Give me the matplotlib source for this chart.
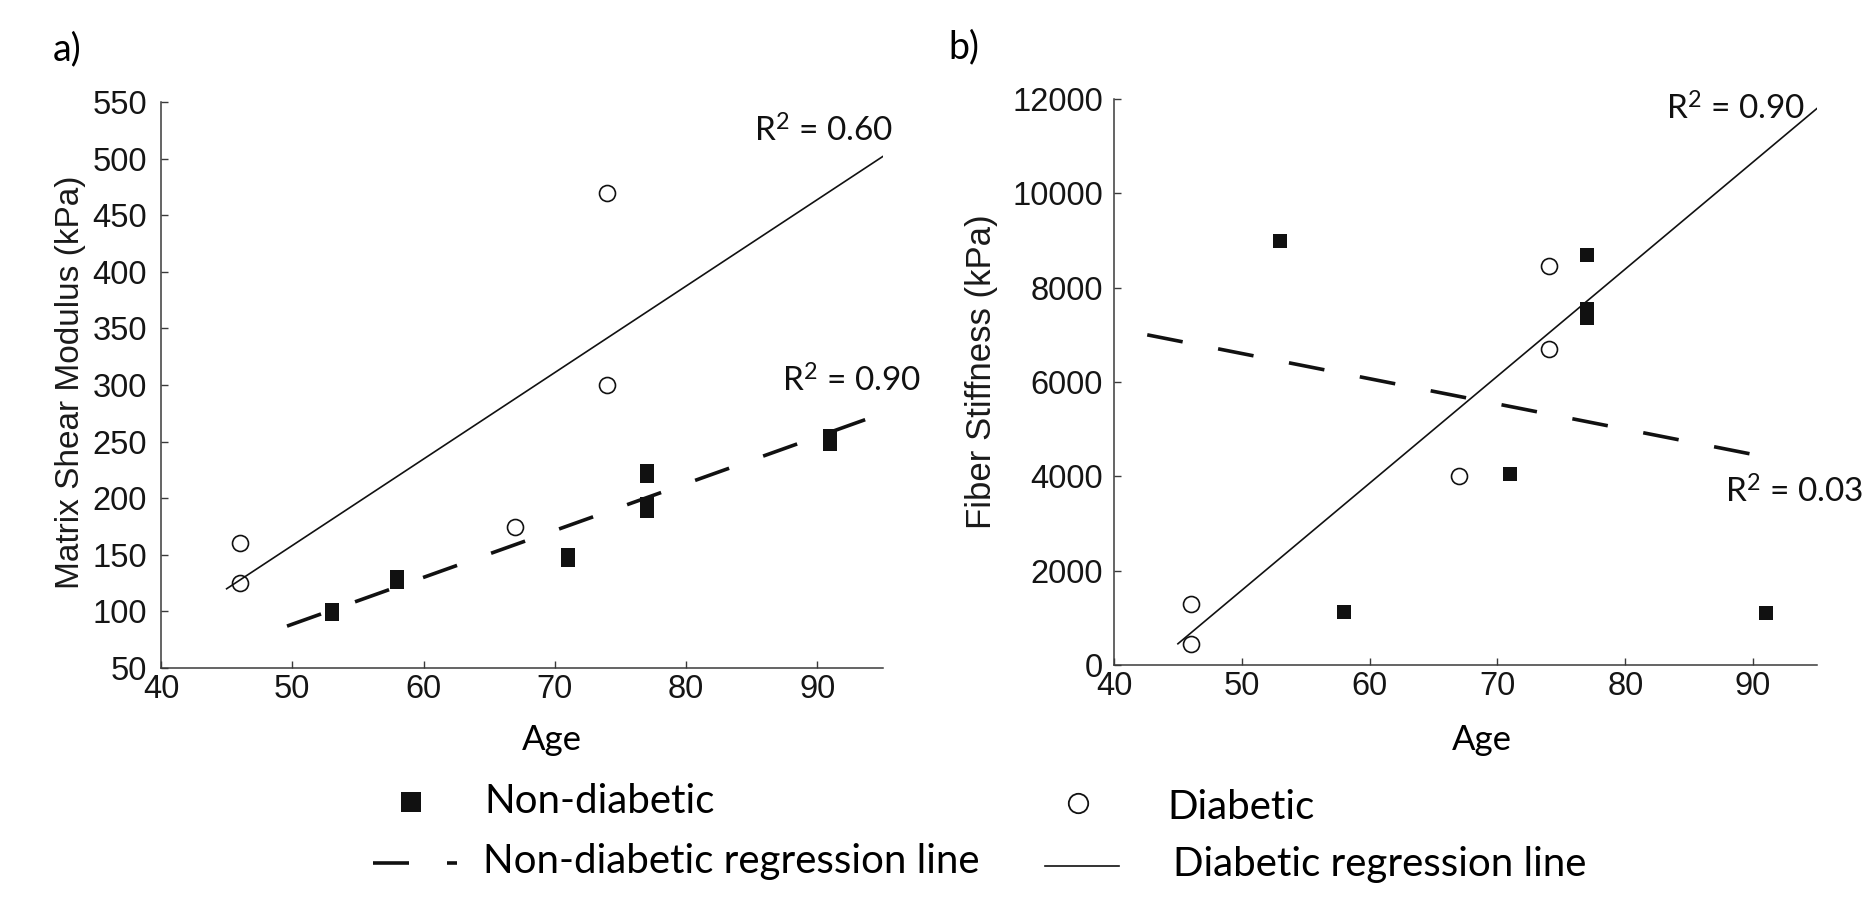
import matplotlib
matplotlib.use("Agg")
import matplotlib.pyplot as plt

plt.rcParams['mathtext.default'] = 'regular'

# ---------------- data ----------------
# panel a: matrix shear modulus (kPa) vs age
age_nondiab_a = [53, 53, 58, 58, 71, 71, 77, 77, 77, 77, 91, 91]
shear_nondiab = [101, 98, 130, 126, 150, 145, 224, 220, 195, 189, 255, 248]
age_diab_a = [46, 46, 67, 74, 74]
shear_diab = [160, 125, 175, 470, 300]

# panel b: fiber stiffness (kPa) vs age
age_nondiab_b = [53, 58, 71, 77, 77, 77, 91]
fiber_nondiab = [9000, 1120, 4050, 8700, 7550, 7350, 1100]
age_diab_b = [46, 46, 67, 74, 74]
fiber_diab = [1300, 450, 4000, 8450, 6700]

# regression lines (end points)
fit_a_diab_x = [45, 95]
fit_a_diab_y = [120, 502]
fit_a_nondiab_x = [49.6, 95]
fit_a_nondiab_y = [87, 275]
fit_b_diab_x = [45, 95]
fit_b_diab_y = [450, 11800]
fit_b_nondiab_x = [42.6, 91.2]
fit_b_nondiab_y = [7000, 4400]

r2_a = ['R$^2$ = 0.60', 'R$^2$ = 0.90']
r2_b = ['R$^2$ = 0.90', 'R$^2$ = 0.03']

xticks = [40, 50, 60, 70, 80, 90]
yticks_a = [50, 100, 150, 200, 250, 300, 350, 400, 450, 500, 550]
yticks_b = [0, 2000, 4000, 6000, 8000, 10000, 12000]

legend_labels = ['Non-diabetic', 'Diabetic',
                 'Non-diabetic regression line', 'Diabetic regression line']

# ---------------- style ----------------
W, H = 1862, 906
TICK_FONT = 'Liberation Sans'
TEXT_FONT = 'Lato'
SPINE_C = '#3a3a3a'

fig = plt.figure(figsize=(W / 100, H / 100), dpi=100)


def px_axes(l, t, r, b):
    return fig.add_axes([l / W, 1 - b / H, (r - l) / W, (b - t) / H])


def style(ax, ypad):
    for s in ['top', 'right']:
        ax.spines[s].set_visible(False)
    for s in ['left', 'bottom']:
        ax.spines[s].set_color(SPINE_C)
        ax.spines[s].set_linewidth(1.1)
    ax.tick_params(direction='in', length=5, width=1.0, color=SPINE_C)
    ax.tick_params(axis='x', pad=4)
    ax.tick_params(axis='y', pad=ypad)
    for lab in ax.get_xticklabels() + ax.get_yticklabels():
        lab.set_fontfamily(TICK_FONT)
        lab.set_fontsize(23.5)
        lab.set_color('#151515')


sq_kw = dict(linestyle='none', marker='s', markersize=10, color='#111111',
             markeredgewidth=0, zorder=3)
ci_kw = dict(linestyle='none', marker='o', markersize=11.5, markerfacecolor='none',
             markeredgecolor='#111111', markeredgewidth=1.2, zorder=4)
dash_kw = dict(color='#111111', linewidth=2.6, dashes=(10, 10),
               dash_capstyle='butt', zorder=2)
solid_kw = dict(color='#111111', linewidth=1.2, zorder=2)
r2_kw = dict(fontfamily=TEXT_FONT, fontsize=24, color='#111111', clip_on=False)

# ---- panel a ----
axa = px_axes(161, 102, 883, 668)
axa.set_xlim(40, 95)
axa.set_ylim(50, 550)
axa.set_xticks(xticks)
axa.set_yticks(yticks_a)
axa.plot(fit_a_diab_x, fit_a_diab_y, **solid_kw)
axa.plot(fit_a_nondiab_x, fit_a_nondiab_y, **dash_kw)
axa.plot(age_nondiab_a, shear_nondiab, **sq_kw)
axa.plot(age_diab_a, shear_diab, **ci_kw)
axa.text(85.2, 514.6, r2_a[0], ha='left', va='baseline', **r2_kw)
axa.text(87.3, 294, r2_a[1], ha='left', va='baseline', **r2_kw)
style(axa, 10)

# ---- panel b ----
axb = px_axes(1114, 99, 1817, 665)
axb.set_xlim(40, 95)
axb.set_ylim(0, 12000)
axb.set_xticks(xticks)
axb.set_yticks(yticks_b)
axb.plot(fit_b_diab_x, fit_b_diab_y, **solid_kw)
axb.plot(fit_b_nondiab_x, fit_b_nondiab_y, **dash_kw)
axb.plot(age_nondiab_b, fiber_nondiab, **sq_kw)
axb.plot(age_diab_b, fiber_diab, **ci_kw)
axb.text(83.2, 11560, r2_b[0], ha='left', va='baseline', **r2_kw)
axb.text(87.8, 3440, r2_b[1], ha='left', va='baseline', **r2_kw)
style(axb, 8)

# ---- overlay for labels and legend (pixel coordinates) ----
ov = fig.add_axes([0, 0, 1, 1], zorder=-1)
ov.set_xlim(0, W)
ov.set_ylim(H, 0)
ov.axis('off')

ov.text(53, 49, 'a)', ha='left', va='center', fontfamily=TEXT_FONT, fontsize=27)
ov.text(948, 47, 'b)', ha='left', va='center', fontfamily=TEXT_FONT, fontsize=27)

ov.text(71, 382, 'Matrix Shear Modulus (kPa)', rotation=90, ha='center', va='center',
        fontfamily=TICK_FONT, fontsize=24, color='#1a1a1a')
ov.text(981, 372, 'Fiber Stiffness (kPa)', rotation=90, ha='center', va='center',
        fontfamily=TICK_FONT, fontsize=25, color='#1a1a1a')
ov.text(552, 740, 'Age', ha='center', va='center', fontfamily=TEXT_FONT, fontsize=25)
ov.text(1482, 740, 'Age', ha='center', va='center', fontfamily=TEXT_FONT, fontsize=25)

# legend
leg_fs = 29
ov.plot([411], [802], linestyle='none', marker='s', markersize=15, color='#111111',
        markeredgewidth=0)
ov.text(484, 813, legend_labels[0], ha='left', va='baseline', fontfamily=TEXT_FONT,
        fontsize=leg_fs)
ov.plot([1078], [803], linestyle='none', marker='o', markersize=14, markerfacecolor='none',
        markeredgecolor='#111111', markeredgewidth=1.3)
ov.text(1167, 819, legend_labels[1], ha='left', va='baseline', fontfamily=TEXT_FONT,
        fontsize=leg_fs)
ov.plot([373, 409], [863, 863], color='#111111', linewidth=2.6, solid_capstyle='butt')
ov.plot([447, 457], [863, 863], color='#111111', linewidth=2.6, solid_capstyle='butt')
ov.text(483, 873, legend_labels[2], ha='left', va='baseline', fontfamily=TEXT_FONT,
        fontsize=leg_fs)
ov.plot([1045, 1119], [866, 866], color='#111111', linewidth=1.2)
ov.text(1173, 876, legend_labels[3], ha='left', va='baseline', fontfamily=TEXT_FONT,
        fontsize=leg_fs)

fig.savefig('out.png', dpi=100)
